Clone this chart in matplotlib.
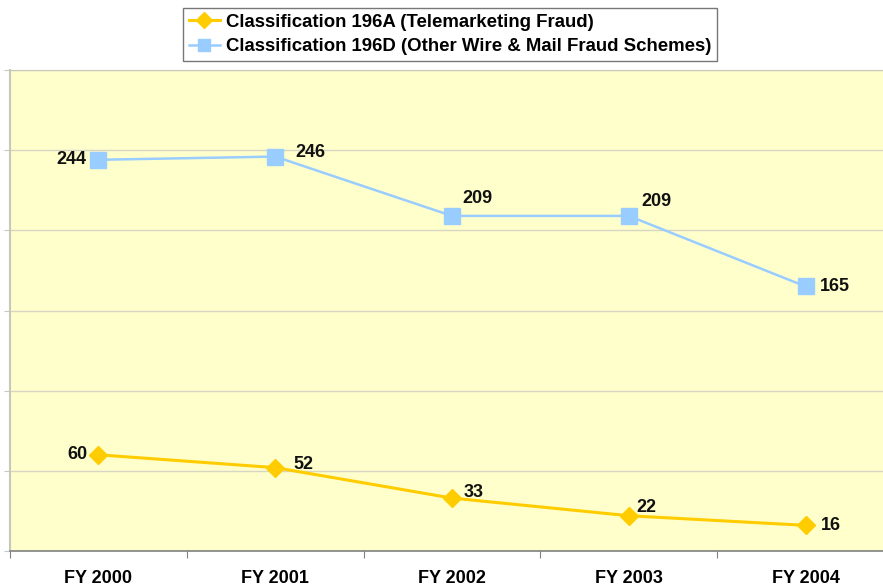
import matplotlib
matplotlib.use("Agg")
import matplotlib.pyplot as plt

years = ["FY 2000", "FY 2001", "FY 2002", "FY 2003", "FY 2004"]
tele_fraud = [60, 52, 33, 22, 16]            # 196A
wire_mail_fraud = [244, 246, 209, 209, 165]  # 196D
series_names = ["Classification 196A (Telemarketing Fraud)",
                "Classification 196D (Other Wire & Mail Fraud Schemes)"]

# label offsets in pixels (dx, dy, ha)
tele_offsets = [(-11, 0, "right"), (18, 3, "left"), (12, 6, "left"), (8, 8, "left"), (15, 0, "left")]
wire_offsets = [(-12, 0, "right"), (20, 4, "left"), (10, 17, "left"), (13, 14, "left"), (14, 0, "left")]

plt.rcParams["font.family"] = ["Liberation Sans", "DejaVu Sans"]

W, H = 883, 587
fig = plt.figure(figsize=(W / 100, H / 100), dpi=100)
fig.patch.set_facecolor("white")
ax = fig.add_axes([10 / W, 1 - 551 / H, 884 / W, 481 / H])
ax.set_facecolor("#FFFFCC")

x = list(range(len(years)))
l1, = ax.plot(x, tele_fraud, color="#FFCC00", lw=2.2, marker="D", ms=9,
              mec="#FFCC00", mfc="#FFCC00", label=series_names[0], zorder=3)
l2, = ax.plot(x, wire_mail_fraud, color="#99CCFF", lw=1.8, marker="s", ms=11,
              mec="#99CCFF", mfc="#99CCFF", label=series_names[1], zorder=3)

for xi, v, (dx, dy, ha) in zip(x, tele_fraud, tele_offsets):
    ax.annotate(str(v), (xi, v), xytext=(dx, dy), textcoords="offset pixels",
                ha=ha, va="center", fontsize=13, fontweight="bold", color="#111111")
for xi, v, (dx, dy, ha) in zip(x, wire_mail_fraud, wire_offsets):
    ax.annotate(str(v), (xi, v), xytext=(dx, dy), textcoords="offset pixels",
                ha=ha, va="center", fontsize=13, fontweight="bold", color="#111111")

ax.set_xlim(-0.5, 4.5)
ax.set_ylim(0, 300)
ax.set_yticks(range(0, 301, 50))
ax.set_yticklabels([])
ax.grid(axis="y", color="#D6D6C2", lw=1)
ax.set_axisbelow(True)

ax.set_xticks([i - 0.5 for i in range(len(years) + 1)])
ax.set_xticklabels([])
ax.set_xticks(x, minor=True)
ax.set_xticklabels(years, minor=True, fontsize=13, fontweight="bold")
ax.tick_params(axis="x", which="major", length=5, color="#808080", direction="out")
ax.tick_params(axis="x", which="minor", length=0, pad=14)
ax.tick_params(axis="y", length=4, color="#C8C8C8")

for side in ["top", "right"]:
    ax.spines[side].set_color("#C8C8B8")
ax.spines["left"].set_color("#C8C8B8")
ax.spines["left"].set_linewidth(1.5)
ax.spines["bottom"].set_color("#808080")
ax.spines["bottom"].set_linewidth(1.2)

leg = fig.legend(handles=[l1, l2], loc="upper left",
                 bbox_to_anchor=(183 / W, 1 - 8 / H), frameon=True, fancybox=False,
                 prop={"weight": "bold", "size": 13.4},
                 handlelength=1.7, handletextpad=0.3, borderpad=0.3,
                 labelspacing=0.4, borderaxespad=0, markerscale=0.85)
leg.get_frame().set_edgecolor("#555555")
leg.get_frame().set_linewidth(1.0)

fig.savefig("out.png", dpi=100)
